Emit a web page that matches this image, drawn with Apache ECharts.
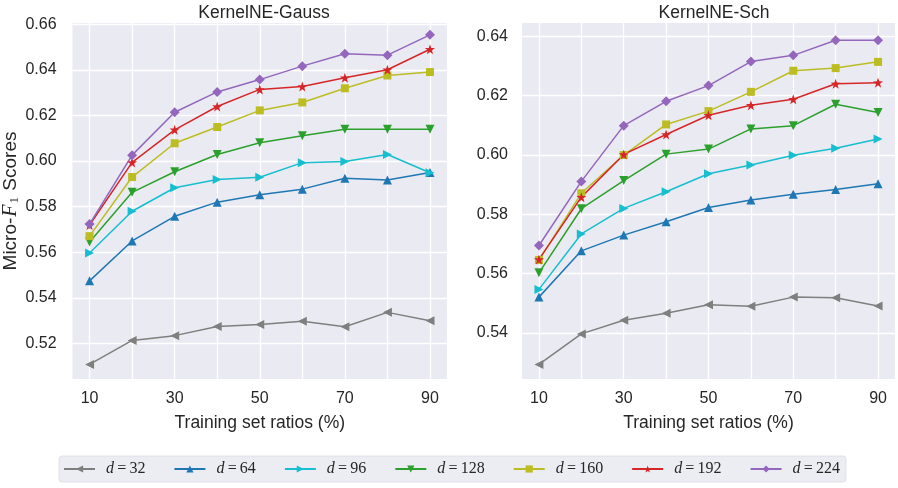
<!DOCTYPE html>
<html><head><meta charset="utf-8">
<script src="https://cdn.jsdelivr.net/npm/echarts@6/dist/echarts.min.js"></script>
<style>html,body{margin:0;padding:0;background:#fff}#c{width:898px;height:488px}</style>
</head><body><div id="c"></div>
<script>
// ---- data ----
var ratios = [10, 20, 30, 40, 50, 60, 70, 80, 90];
var xTickValues = [10, 20, 30, 40, 50, 60, 70, 80, 90];
var xLabelValues = [10, 30, 50, 70, 90];
var yTicksGauss = [0.52, 0.54, 0.56, 0.58, 0.60, 0.62, 0.64, 0.66];
var yTicksSch = [0.54, 0.56, 0.58, 0.60, 0.62, 0.64];
var dims = [32, 64, 96, 128, 160, 192, 224];
var titles = ['KernelNE-Gauss', 'KernelNE-Sch'];

var gauss32  = [0.5109,0.5214,0.5235,0.5275,0.5284,0.5298,0.5274,0.5337,0.5300];
var gauss64  = [0.5475,0.5650,0.5758,0.5820,0.5852,0.5877,0.5925,0.5917,0.5950];
var gauss96  = [0.5597,0.5780,0.5883,0.5919,0.5929,0.5993,0.5998,0.6029,0.5949];
var gauss128 = [0.5645,0.5863,0.5953,0.6029,0.6080,0.6111,0.6139,0.6139,0.6139];
var gauss160 = [0.5671,0.5930,0.6078,0.6149,0.6222,0.6257,0.6319,0.6375,0.6390];
var gauss192 = [0.5720,0.5994,0.6137,0.6239,0.6314,0.6327,0.6365,0.6400,0.6490];
var gauss224 = [0.5724,0.6026,0.6214,0.6303,0.6357,0.6416,0.6470,0.6464,0.6553];

var sch32  = [0.5294,0.5397,0.5443,0.5467,0.5495,0.5490,0.5521,0.5519,0.5491];
var sch64  = [0.5521,0.5677,0.5730,0.5775,0.5823,0.5848,0.5868,0.5884,0.5903];
var sch96  = [0.5547,0.5734,0.5820,0.5876,0.5937,0.5966,0.5999,0.6023,0.6054];
var sch128 = [0.5603,0.5819,0.5914,0.6003,0.6020,0.6088,0.6099,0.6171,0.6143];
var sch160 = [0.5646,0.5871,0.6000,0.6103,0.6148,0.6213,0.6284,0.6293,0.6314];
var sch192 = [0.5648,0.5858,0.6002,0.6069,0.6134,0.6168,0.6188,0.6240,0.6244];
var sch224 = [0.5695,0.5911,0.6099,0.6181,0.6234,0.6315,0.6336,0.6387,0.6387];

var gaussSeries = [gauss32, gauss64, gauss96, gauss128, gauss160, gauss192, gauss224];
var schSeries = [sch32, sch64, sch96, sch128, sch160, sch192, sch224];

// ---- styles ----
var colors = ['#7f7f7f', '#1f77b4', '#17becf', '#2ca02c', '#bcbd22', '#d62728', '#9467bd'];
var star = 'path://M0,-10 L2.35,-3.24 L9.51,-3.09 L3.8,1.24 L5.88,8.09 L0,4 L-5.88,8.09 L-3.8,1.24 L-9.51,-3.09 L-2.35,-3.24 Z';
var symbols = ['triangle', 'triangle', 'triangle', 'triangle', 'rect', star, 'diamond'];
var rotates = [90, 0, -90, 180, 0, 0, 0];
var sizes = [9, 9, 9, 9, 8, 10, 10];
var TXT = '#262626';
var SANS = 'Liberation Sans, Arial, sans-serif';

function name(d) { return 'd = ' + d; }

var series = [];
[gaussSeries, schSeries].forEach(function (group, gi) {
  group.forEach(function (vals, si) {
    series.push({
      type: 'line',
      name: name(dims[si]),
      xAxisIndex: gi, yAxisIndex: gi,
      data: ratios.map(function (x, k) { return [x, vals[k]]; }),
      symbol: symbols[si], symbolRotate: rotates[si], symbolSize: sizes[si],
      showAllSymbol: true,
      lineStyle: { color: colors[si], width: 1.5 },
      itemStyle: { color: colors[si] },
      emphasis: { disabled: true },
      animation: false
    });
  });
});

function xAxis(gi) {
  return {
    type: 'value', gridIndex: gi, min: 6, max: 94,
    name: 'Training set ratios (%)', nameLocation: 'middle', nameGap: 35,
    nameTextStyle: { fontFamily: SANS, fontSize: 17.5, color: TXT },
    axisLine: { show: false },
    axisTick: { show: false, customValues: xTickValues },
    axisLabel: { customValues: xLabelValues, fontFamily: SANS, fontSize: 16, color: TXT, margin: 12 },
    splitLine: { show: true, lineStyle: { color: '#ffffff', width: 1.3 } }
  };
}
function yAxis(gi, min, max, ticks) {
  var a = {
    type: 'value', gridIndex: gi, min: min, max: max,
    axisLine: { show: false },
    axisTick: { show: false, customValues: ticks },
    axisLabel: { customValues: ticks, fontFamily: SANS, fontSize: 16, color: TXT, margin: gi === 0 ? 16 : 14,
      formatter: function (v) { return v.toFixed(2); } },
    splitLine: { show: true, lineStyle: { color: '#ffffff', width: 1.3 } }
  };
  if (gi === 0) {
    a.name = 'Micro-{i|F}{s|1} Scores';
    a.nameLocation = 'middle';
    a.nameRotate = 90;
    a.nameGap = 50;
    a.nameTextStyle = {
      fontFamily: SANS, fontSize: 19, color: TXT,
      rich: {
        i: { fontFamily: 'Liberation Serif, serif', fontStyle: 'italic', fontSize: 20, color: TXT, padding: [0, 1, 0, 1] },
        s: { fontFamily: 'Liberation Serif, serif', fontSize: 13, color: TXT, padding: [8, 1, 0, 0] }
      }
    };
  }
  return a;
}

var chart = echarts.init(document.getElementById('c'), null, { renderer: 'canvas' });
chart.setOption({
  backgroundColor: '#ffffff',
  animation: false,
  title: [
    { text: titles[0], left: 259, top: -1, textAlign: 'center',
      textStyle: { fontFamily: SANS, fontSize: 17.5, fontWeight: 'normal', color: TXT } },
    { text: titles[1], left: 709, top: -1, textAlign: 'center',
      textStyle: { fontFamily: SANS, fontSize: 17.5, fontWeight: 'normal', color: TXT } }
  ],
  grid: [
    { left: 71, right: 451, top: 23, bottom: 109, show: true, backgroundColor: '#EAEAF2', borderWidth: 0 },
    { left: 522, right: 3, top: 23, bottom: 109, show: true, backgroundColor: '#EAEAF2', borderWidth: 0 }
  ],
  xAxis: [xAxis(0), xAxis(1)],
  yAxis: [yAxis(0, 0.5045, 0.6605, yTicksGauss), yAxis(1, 0.5245, 0.6445, yTicksSch)],
  legend: {
    data: dims.map(name),
    left: 59, top: 456,
    orient: 'horizontal',
    itemWidth: 31, itemHeight: 9, itemGap: 28,
    padding: [5, 6, 5, 4],
    backgroundColor: 'rgba(234,234,242,0.9)',
    borderColor: '#dcdce6', borderWidth: 0.8, borderRadius: 3,
    formatter: function (n) { return '{i|d}{n|\u2009=\u2009' + n.split('= ')[1] + '}'; },
    textStyle: {
      padding: [0, 0, 0, 6],
      rich: {
        i: { fontFamily: 'Liberation Serif, serif', fontStyle: 'italic', fontSize: 16, color: TXT },
        n: { fontFamily: 'Liberation Serif, serif', fontSize: 16, color: TXT }
      }
    },
    selectedMode: false
  },
  series: series
});
</script></body></html>
